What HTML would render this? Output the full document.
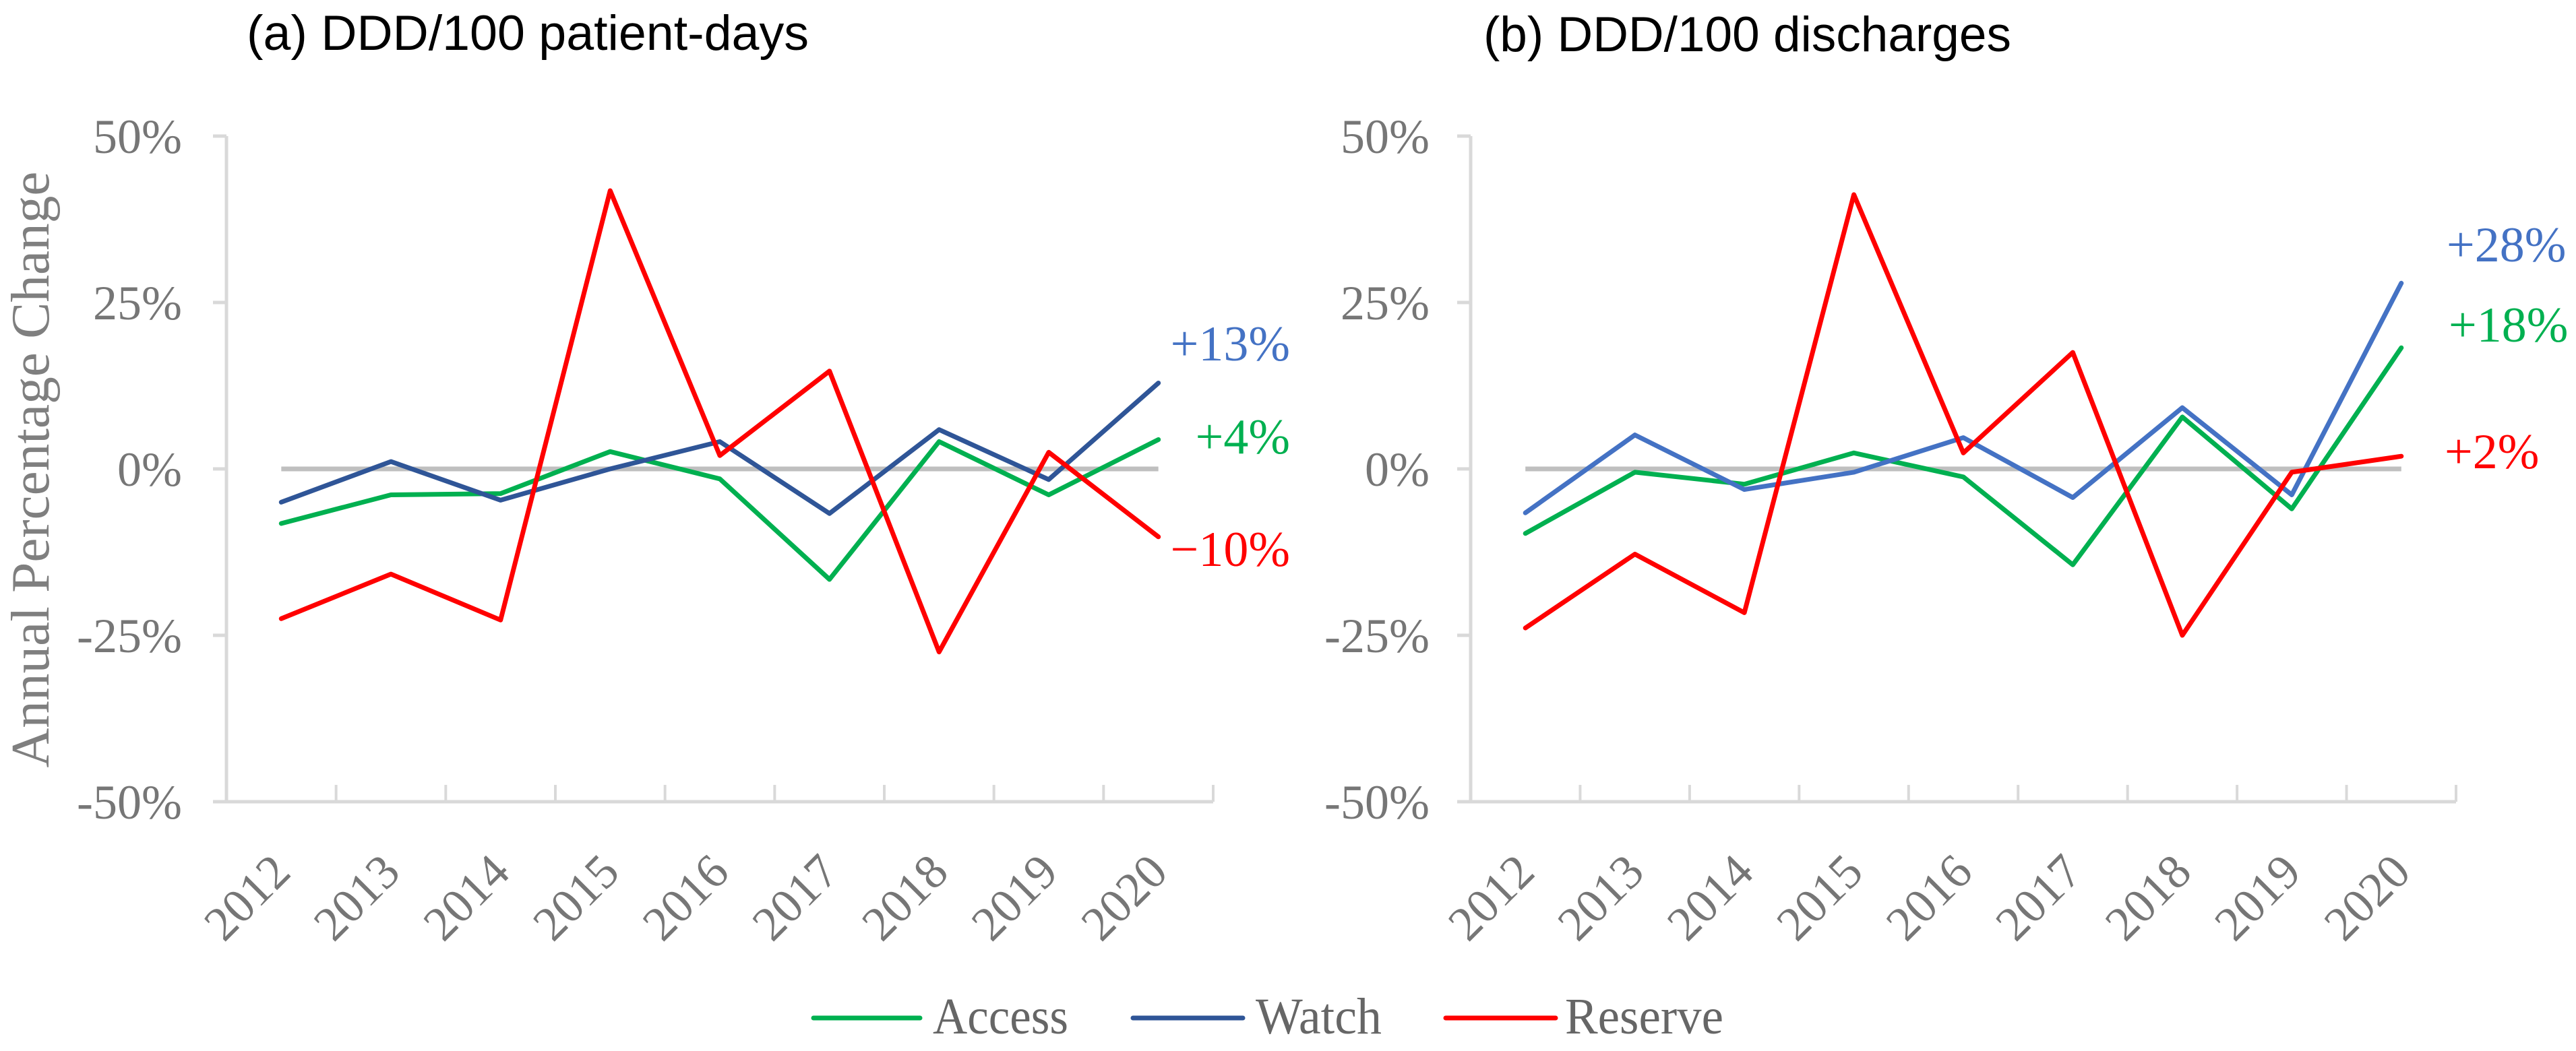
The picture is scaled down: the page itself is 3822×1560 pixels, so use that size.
<!DOCTYPE html>
<html><head><meta charset="utf-8"><style>html,body{margin:0;padding:0;background:#fff}svg{display:block}</style></head>
<body>
<svg id="chart" width="3822" height="1560" viewBox="0 0 3822 1560" xmlns="http://www.w3.org/2000/svg">
<text x="366" y="74" font-family="Liberation Sans, Arial, sans-serif" font-size="73" fill="#000" textLength="834" lengthAdjust="spacingAndGlyphs">(a) DDD/100 patient-days</text>
<text x="2201" y="76" font-family="Liberation Sans, Arial, sans-serif" font-size="73" fill="#000" textLength="783" lengthAdjust="spacingAndGlyphs">(b) DDD/100 discharges</text>
<text transform="translate(72,697) rotate(-90)" text-anchor="middle" font-family="Liberation Serif, serif" font-size="81" fill="#7f7f7f" textLength="885" lengthAdjust="spacingAndGlyphs">Annual Percentage Change</text>
<g id="panels"></g>
<g>
<line x1="1207" y1="1511" x2="1365" y2="1511" stroke="#00b050" stroke-width="7" stroke-linecap="round"/>
<text x="1384" y="1534" font-family="Liberation Serif, serif" font-size="76" fill="#666" textLength="201" lengthAdjust="spacingAndGlyphs">Access</text>
<line x1="1681" y1="1511" x2="1844" y2="1511" stroke="#2f5597" stroke-width="7" stroke-linecap="round"/>
<text x="1863" y="1534" font-family="Liberation Serif, serif" font-size="76" fill="#666" textLength="187" lengthAdjust="spacingAndGlyphs">Watch</text>
<line x1="2145" y1="1511" x2="2308" y2="1511" stroke="#ff0000" stroke-width="7" stroke-linecap="round"/>
<text x="2322" y="1534" font-family="Liberation Serif, serif" font-size="76" fill="#666" textLength="235" lengthAdjust="spacingAndGlyphs">Reserve</text>
</g>
</svg>
<script>
const categories = ['2012','2013','2014','2015','2016','2017','2018','2019','2020'];
const yTicks = [50, 25, 0, -25, -50];
const yTickLabels = ['50%','25%','0%','-25%','-50%'];
const accessA = [-8.2, -3.9, -3.7, 2.6, -1.5, -16.6, 4.1, -3.9, 4.4];
const watchA = [-5.0, 1.1, -4.7, 0.0, 4.1, -6.7, 5.9, -1.6, 12.9];
const reserveA = [-22.5, -15.8, -22.7, 41.8, 2.0, 14.7, -27.5, 2.5, -10.2];
const accessB = [-9.7, -0.5, -2.3, 2.4, -1.2, -14.4, 7.8, -6.0, 18.2];
const watchB = [-6.6, 5.1, -3.1, -0.5, 4.7, -4.3, 9.2, -3.9, 27.9];
const reserveB = [-23.9, -12.8, -21.6, 41.2, 2.4, 17.5, -25.0, -0.5, 1.9];
const endLabelsA = ['+13%', '+4%', '\u221210%'];
const endLabelsB = ['+28%', '+18%', '+2%'];

const NS = 'http://www.w3.org/2000/svg';
const root = document.getElementById('panels');
function mk(tag, attrs, parent) {
  const e = document.createElementNS(NS, tag);
  for (const k in attrs) e.setAttribute(k, attrs[k]);
  (parent || root).appendChild(e);
  return e;
}
function panel(id, x0, x1, yTop, yBot, tickLabelX, series, labels, labelPos, labelAnchor) {
  const g = mk('g', {});
  
  
  const n = categories.length;
  const cw = (x1 - x0) / n;
  const xS = i => x0 + cw * (i + 0.5);
  const yS = v => yTop + (50 - v) / 100 * (yBot - yTop);
  // y axis
  const ya = mk('line', {x1: x0, y1: yTop, x2: x0, y2: yBot, stroke: '#d9d9d9', 'stroke-width': 5}, g);
  
  
  yTicks.forEach((t, i) => {
    const yy = yS(t);
    mk('line', {x1: x0 - 20, y1: yy, x2: x0, y2: yy, stroke: '#d9d9d9', 'stroke-width': 5}, g);
    const tx = mk('text', {x: tickLabelX, y: yy + 25, 'text-anchor': 'end', 'font-family': 'Liberation Serif, serif', 'font-size': 72, fill: '#767676'}, g);
    tx.textContent = yTickLabels[i];
    
    
  });
  // x axis
  const xa = mk('line', {x1: x0, y1: yBot, x2: x1, y2: yBot, stroke: '#d9d9d9', 'stroke-width': 5}, g);
  
  
  for (let i = 1; i <= n; i++) {
    const xx = x0 + cw * i;
    mk('line', {x1: xx, y1: yBot - 25, x2: xx, y2: yBot, stroke: '#d9d9d9', 'stroke-width': 4}, g);
  }
  categories.forEach((c, i) => {
    const px = xS(i) + 17, py = 1298;
    const tx = mk('text', {x: 0, y: 0, transform: `translate(${px},${py}) rotate(-45)`, 'text-anchor': 'end', 'font-family': 'Liberation Serif, serif', 'font-size': 72, fill: '#767676'}, g);
    tx.textContent = c;
    
    
  });
  // zero line
  const z = mk('line', {x1: xS(0), y1: yS(0), x2: xS(n - 1), y2: yS(0), stroke: '#bfbfbf', 'stroke-width': 7}, g);
  
  
  series.forEach((s, si) => {
    const d = s.vals.map((v, i) => (i ? 'L' : 'M') + xS(i).toFixed(1) + ' ' + yS(v).toFixed(1)).join(' ');
    const p = mk('path', {d: d, fill: 'none', stroke: s.color, 'stroke-width': 7, 'stroke-linejoin': 'round', 'stroke-linecap': 'round'}, g);
    
    
  });
  labels.forEach((l, i) => {
    const tx = mk('text', {x: labelPos[i][0], y: labelPos[i][1], 'text-anchor': labelAnchor, 'font-family': 'Liberation Serif, serif', 'font-size': 74, fill: labelPos[i][2]}, g);
    tx.textContent = l;
    
    
  });
}
panel('a', 336, 1800, 202, 1190, 270,
  [{name: 'access', vals: accessA, color: '#00b050'}, {name: 'watch', vals: watchA, color: '#2f5597'}, {name: 'reserve', vals: reserveA, color: '#ff0000'}],
  endLabelsA, [[1914, 535, '#4472c4'], [1914, 673, '#00b050'], [1914, 840, '#ff0000']], 'end');
panel('b', 2182, 3644, 202, 1190, 2121,
  [{name: 'access', vals: accessB, color: '#00b050'}, {name: 'watch', vals: watchB, color: '#4472c4'}, {name: 'reserve', vals: reserveB, color: '#ff0000'}],
  endLabelsB, [[3630, 388, '#4472c4'], [3633, 507, '#00b050'], [3627, 695, '#ff0000']], 'start');
</script>
</body></html>
